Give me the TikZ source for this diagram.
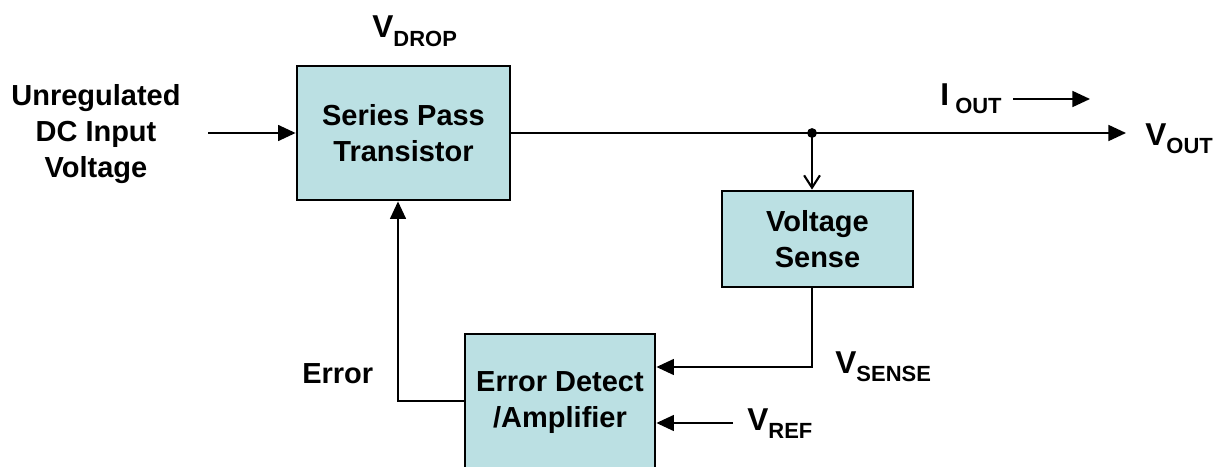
\documentclass[tikz,border=0pt]{standalone}
\usepackage{fontspec}
\setmainfont{Liberation Sans}
\usepackage{xcolor}
\usetikzlibrary{arrows.meta,positioning,calc}
\definecolor{RegCyan}{HTML}{BBE0E3}
\definecolor{RegDark}{HTML}{000000}
\newcommand{\mainfont}{\fontsize{16.5}{20.5}\selectfont\bfseries}
\newcommand{\letterfont}{\fontsize{18}{21}\selectfont\bfseries}
\newcommand{\subfont}{\fontsize{12.5}{14}\selectfont\bfseries}
\newcommand{\sig}[2]{{\letterfont #1}\raisebox{-5pt}{\subfont #2}}
\tikzset{
  regbox/.style={draw=RegDark,line width=1.6pt,fill=RegCyan,align=center,inner sep=0pt,font=\mainfont},
  sigarrow/.style={-{Triangle[length=10pt,width=9pt]},line width=1.2pt,draw=RegDark},
  sigline/.style={line width=1.2pt,draw=RegDark},
  sensearrow/.style={-{Straight Barb[length=7pt,width=9pt]},line width=1.2pt,draw=RegDark},
  siglabel/.style={inner sep=0pt,anchor=base west,font=\mainfont}
}
\begin{document}
\begin{tikzpicture}[x=0.02cm,y=-0.02cm]
\useasboundingbox (0,0) rectangle (1222,466);
\clip (0,0) rectangle (1222,466);
% blocks
\node[regbox,minimum width=4.26cm,minimum height=2.68cm] (pass) at (403.5,133) {Series Pass\\Transistor};
\node[regbox,minimum width=3.82cm,minimum height=1.92cm] (sense) at (817.5,239) {Voltage\\Sense};
\node[regbox,minimum width=3.8cm,minimum height=2.76cm] (err) at (560,403) {Error Detect\\/Amplifier};
% free ends and corners
\coordinate (vin) at (208,133);
\coordinate (vout) at (1126,133);
\coordinate (tap) at (812,133);
\coordinate (senseturn) at (812,367);
\coordinate (refin) at (733,423);
\coordinate (fbturn) at (398,401);
\coordinate (ioutstart) at (1013,99);
\coordinate (ioutend) at (1090,99);
% connectors
\draw[sigarrow] (vin) -- (pass.west);
\draw[sigarrow] (pass.east) -- (vout);
\fill[RegDark] (tap) circle (2.8pt);
\draw[sensearrow] (tap) -- (tap |- sense.north);
\draw[sigarrow] (tap |- sense.south) -- (senseturn) -- (senseturn -| err.east);
\draw[sigarrow] (refin) -- (refin -| err.east);
\draw[sigarrow] (fbturn -| err.west) -- (fbturn) -- (fbturn |- pass.south);
\draw[sigarrow] (ioutstart) -- (ioutend);
% labels
\node[align=center,inner sep=0pt,font=\mainfont] (lblin) at (96,134) {Unregulated\\DC Input\\Voltage};
\node[siglabel] (lbldrop) at (372,38) {\sig{V}{DROP}};
\node[siglabel] (lbliout) at (940,105) {\sig{I}{\ OUT}};
\node[siglabel] (lblvout) at (1145,145) {\sig{V}{OUT}};
\node[siglabel] (lblsense) at (835,373) {\sig{V}{SENSE}};
\node[siglabel] (lblref) at (747,430) {\sig{V}{REF}};
\node[siglabel] (lblerr) at (302,383) {Error};
\end{tikzpicture}
\end{document}
